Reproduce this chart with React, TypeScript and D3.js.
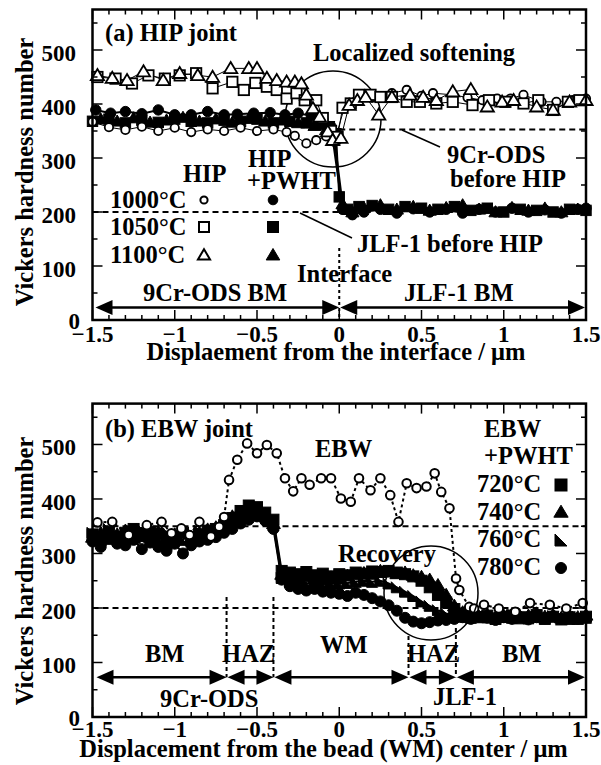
import React from "react";
import * as d3 from "d3";

// ---------- axis ticks ----------
const X_TICKS = [-1.5, -1, -0.5, 0, 0.5, 1, 1.5];
const X_TICK_LABELS = ["\u22121.5", "\u22121", "\u22120.5", "0", "0.5", "1", "1.5"];
const Y_TICKS = [0, 100, 200, 300, 400, 500];
const Y_TICK_LABELS = ["0", "100", "200", "300", "400", "500"];

// ---------- panel (a) HIP joint: [displacement, HV] ----------
const hip1000: [number, number][] = [
  [-1.5, 367], [-1.4, 357], [-1.3, 352], [-1.2, 358], [-1.1, 350], [-1.0, 356], [-0.9, 348], [-0.8, 353],
  [-0.7, 350], [-0.6, 356], [-0.5, 350], [-0.4, 353], [-0.32, 348], [-0.27, 341], [-0.2, 327], [-0.14, 333],
  [-0.08, 340], [-0.03, 330], [0.03, 392], [0.1, 405], [0.2, 412], [0.32, 420], [0.41, 426], [0.5, 415],
  [0.57, 420], [0.69, 417], [0.78, 412], [0.87, 407], [0.96, 410], [1.04, 410], [1.12, 417], [1.23, 404],
  [1.32, 404], [1.42, 407], [1.5, 410],
];
const hip1050: [number, number][] = [
  [-1.47, 450], [-1.36, 447], [-1.26, 438], [-1.16, 453], [-1.06, 447], [-0.97, 453], [-0.87, 457], [-0.77, 429],
  [-0.65, 441], [-0.58, 426], [-0.51, 439], [-0.44, 432], [-0.38, 426], [-0.32, 410], [-0.26, 420], [-0.21, 407],
  [-0.14, 407], [-0.1, 374], [-0.05, 350], [-0.01, 339], [0.02, 393], [0.07, 401], [0.12, 417], [0.19, 417],
  [0.25, 413], [0.32, 413], [0.41, 404], [0.49, 404], [0.59, 401], [0.69, 404], [0.81, 398], [0.91, 407],
  [1.01, 404], [1.12, 401], [1.21, 407], [1.3, 389], [1.39, 404], [1.46, 407],
];
const hip1100: [number, number][] = [
  [-1.47, 453], [-1.38, 448], [-1.29, 444], [-1.19, 460], [-1.07, 444], [-0.97, 457], [-0.86, 453], [-0.77, 450],
  [-0.66, 466], [-0.55, 466], [-0.5, 466], [-0.44, 448], [-0.38, 444], [-0.32, 441], [-0.27, 441], [-0.23, 438],
  [-0.2, 417], [-0.16, 392], [-0.12, 376], [-0.07, 349], [-0.04, 333], [0.01, 337], [0.06, 398], [0.11, 407],
  [0.16, 413], [0.24, 380], [0.32, 413], [0.43, 417], [0.51, 413], [0.59, 407], [0.69, 423], [0.8, 427],
  [0.9, 395], [0.99, 404], [1.06, 407], [1.2, 395], [1.3, 389], [1.4, 404], [1.5, 407],
];
const pwht1000: [number, number][] = [
  [-1.48, 389], [-1.39, 383], [-1.3, 386], [-1.2, 382], [-1.1, 389], [-1.0, 380], [-0.9, 380], [-0.8, 386],
  [-0.7, 380], [-0.62, 381], [-0.52, 383], [-0.42, 384], [-0.33, 380], [-0.25, 383], [-0.17, 378], [-0.1, 372],
  [-0.05, 358], [0.02, 205], [0.08, 195], [0.15, 200], [0.25, 205], [0.35, 198], [0.45, 206], [0.55, 200],
  [0.65, 205], [0.75, 198], [0.85, 205], [0.95, 200], [1.05, 207], [1.15, 200], [1.25, 204], [1.35, 198],
  [1.45, 205], [1.5, 207],
];
const pwht1050: [number, number][] = [
  [-1.5, 368], [-1.4, 372], [-1.3, 365], [-1.2, 370], [-1.1, 366], [-1.0, 372], [-0.9, 368], [-0.8, 365],
  [-0.7, 370], [-0.6, 368], [-0.5, 372], [-0.4, 365], [-0.3, 368], [-0.2, 365], [-0.12, 362], [-0.06, 358],
  [-0.02, 345], [0.0, 228], [0.05, 205], [0.12, 210], [0.2, 212], [0.3, 205], [0.4, 210], [0.5, 207],
  [0.6, 205], [0.7, 210], [0.8, 203], [0.9, 207], [1.0, 200], [1.1, 205], [1.2, 203], [1.3, 200],
  [1.4, 205], [1.5, 203],
];
const pwht1100: [number, number][] = [
  [-1.45, 372], [-1.35, 368], [-1.25, 374], [-1.15, 366], [-1.05, 370], [-0.95, 375], [-0.85, 368], [-0.75, 372],
  [-0.65, 366], [-0.55, 373], [-0.45, 368], [-0.35, 370], [-0.25, 365], [-0.15, 360], [-0.08, 352], [-0.03, 335],
  [0.02, 215], [0.08, 200], [0.15, 208], [0.25, 213], [0.35, 205], [0.45, 210], [0.55, 203], [0.65, 208],
  [0.75, 213], [0.85, 205], [0.95, 200], [1.05, 208], [1.15, 203], [1.25, 207], [1.35, 200], [1.45, 205],
];

// ---------- panel (b) EBW joint ----------
const ebw: [number, number][] = [
  [-1.47, 357], [-1.38, 358], [-1.28, 334], [-1.17, 352], [-1.08, 358], [-1.02, 337], [-0.96, 346], [-0.91, 334],
  [-0.85, 358], [-0.78, 331], [-0.73, 349], [-0.7, 367], [-0.67, 435], [-0.62, 472], [-0.56, 502], [-0.5, 484],
  [-0.44, 499], [-0.38, 484], [-0.33, 438], [-0.28, 414], [-0.23, 438], [-0.18, 426], [-0.11, 438], [-0.05, 438],
  [0.01, 401], [0.07, 395], [0.12, 438], [0.19, 416], [0.25, 438], [0.31, 407], [0.36, 358], [0.41, 429],
  [0.47, 420], [0.53, 423], [0.58, 447], [0.62, 413], [0.67, 383], [0.71, 254], [0.73, 233], [0.79, 202],
  [0.82, 199], [0.88, 206], [0.97, 199], [1.07, 193], [1.16, 209], [1.28, 206], [1.38, 199], [1.48, 209],
];
const xB = [
  -1.5, -1.45, -1.4, -1.35, -1.3, -1.25, -1.2, -1.15, -1.1, -1.05, -1.0, -0.95, -0.9, -0.85, -0.8, -0.75,
  -0.7, -0.65, -0.6, -0.55, -0.5, -0.45, -0.4, -0.35, -0.3, -0.25, -0.2, -0.15, -0.1, -0.05, 0, 0.05,
  0.1, 0.15, 0.2, 0.25, 0.3, 0.35, 0.4, 0.45, 0.5, 0.55, 0.6, 0.65, 0.7, 0.75, 0.8, 0.85,
  0.9, 0.95, 1.0, 1.05, 1.1, 1.15, 1.2, 1.25, 1.3, 1.35, 1.4, 1.45, 1.5,
];
const pw720 = [
  335, 325, 340, 330, 338, 345, 332, 340, 335, 318, 330, 338, 325, 335, 342, 345,
  352, 365, 378, 388, 385, 375, 362, 268, 265, 262, 266, 260, 263, 258, 262, 260,
  265, 263, 267, 266, 268, 265, 262, 258, 250, 238, 224, 210, 198, 190, 186, 183,
  186, 181, 184, 186, 181, 183, 187, 181, 184, 179, 183, 180, 184,
];
const pw740 = [
  330, 338, 326, 335, 342, 328, 336, 330, 340, 325, 335, 342, 330, 338, 344, 348,
  355, 368, 372, 378, 380, 372, 355, 262, 258, 255, 258, 254, 252, 256, 255, 259,
  261, 264, 262, 268, 266, 263, 265, 260, 257, 252, 242, 224, 204, 192, 186, 184,
  188, 183, 186, 189, 184, 186, 190, 184, 187, 182, 186, 183, 187,
];
const pw760 = [
  338, 332, 345, 335, 328, 340, 345, 335, 328, 340, 332, 325, 338, 342, 335, 340,
  348, 360, 368, 372, 375, 368, 352, 255, 248, 244, 246, 243, 244, 246, 245, 246,
  248, 250, 248, 250, 245, 238, 230, 222, 212, 204, 196, 190, 186, 184, 182, 185,
  183, 180, 184, 182, 186, 181, 184, 180, 185, 182, 180, 184, 182,
];
const pw780 = [
  322, 312, 328, 318, 315, 325, 308, 320, 312, 305, 318, 300, 315, 322, 325, 330,
  338, 345, 355, 362, 368, 360, 345, 252, 240, 235, 232, 235, 230, 228, 226, 222,
  228, 224, 218, 212, 205, 195, 182, 175, 172, 174, 177, 178, 180, 183, 180, 184,
  182, 178, 183, 180, 184, 179, 183, 181, 185, 180, 183, 180, 184,
];

// ---------- layout ----------
const W = 601, H = 765;
const L = 92.5, R = 586;
const FONT = "'Liberation Serif','Times New Roman',Times,serif";
const x = d3.scaleLinear().domain([-1.5, 1.5]).range([L, R]);
const yA = d3.scaleLinear().domain([0, 575]).range([320, 9.5]);
const yB = d3.scaleLinear().domain([0, 575]).range([717, 403.6]);

type Shape = "circle" | "square" | "triangle" | "rtri";

function Marker({ shape, filled, cx, cy, s, sw }: { shape: Shape; filled: boolean; cx: number; cy: number; s: number; sw?: number }) {
  const fill = filled ? "#000" : "#fff";
  const strokeWidth = sw ?? (filled ? 1 : 1.8);
  if (shape === "circle") return <circle cx={cx} cy={cy} r={s} fill={fill} stroke="#000" strokeWidth={strokeWidth} />;
  if (shape === "square") return <rect x={cx - s} y={cy - s} width={2 * s} height={2 * s} fill={fill} stroke="#000" strokeWidth={strokeWidth} />;
  if (shape === "triangle")
    return <path d={`M${cx},${cy - s * 1.05}L${cx + s * 1.1},${cy + s * 0.8}L${cx - s * 1.1},${cy + s * 0.8}Z`} fill={fill} stroke="#000" strokeWidth={strokeWidth} strokeLinejoin="miter" />;
  return <path d={`M${cx - s},${cy - s}L${cx + s},${cy + s}L${cx - s},${cy + s}Z`} fill={fill} stroke="#000" strokeWidth={strokeWidth} />;
}

function Axes({ y, xLabelDy }: { y: d3.ScaleLinear<number, number>; xLabelDy: number }) {
  const [yb, yt] = y.range();
  const xMinor = d3.range(-15, 16).map((i) => i / 10);
  const yMinor = d3.range(0, 12).map((i) => i * 50);
  return (
    <g>
      <g stroke="#000" strokeWidth={1.5}>
        {xMinor.map((v, i) => {
          const len = i % 5 === 0 ? 10 : 5;
          const px = x(v);
          return (
            <g key={"x" + i}>
              <line x1={px} x2={px} y1={yb} y2={yb - len} />
              <line x1={px} x2={px} y1={yt} y2={yt + len} />
            </g>
          );
        })}
        {yMinor.map((v, i) => {
          const len = i % 2 === 0 ? 10 : 5;
          const py = y(v);
          return (
            <g key={"y" + i}>
              <line x1={L} x2={L + len} y1={py} y2={py} />
              <line x1={R} x2={R - len} y1={py} y2={py} />
            </g>
          );
        })}
      </g>
      <rect x={L} y={yt} width={R - L} height={yb - yt} fill="none" stroke="#000" strokeWidth={2.5} />
      <g fontFamily={FONT} fontWeight="bold" fontSize={23} fill="#000">
        {X_TICKS.map((v, i) => (
          <text key={"xl" + i} x={x(v)} y={yb + xLabelDy} textAnchor="middle">{X_TICK_LABELS[i]}</text>
        ))}
        {Y_TICKS.map((v, i) => (
          <text key={"yl" + i} x={v === 0 ? 80 : 76} y={y(v) + (v === 0 ? 9 : 11)} textAnchor="end">{Y_TICK_LABELS[i]}</text>
        ))}
      </g>
    </g>
  );
}

function DArrow({ x1, x2, yy }: { x1: number; x2: number; yy: number }) {
  const hl = 17, hw = 7.5;
  return (
    <g>
      <line x1={x1 + hl - 2} x2={x2 - hl + 2} y1={yy} y2={yy} stroke="#000" strokeWidth={2.5} />
      <path d={`M${x1},${yy}L${x1 + hl},${yy - hw}L${x1 + hl},${yy + hw}Z`} fill="#000" />
      <path d={`M${x2},${yy}L${x2 - hl},${yy - hw}L${x2 - hl},${yy + hw}Z`} fill="#000" />
    </g>
  );
}

function Deg({ t }: { t: string }) {
  return <>{t}<tspan>°</tspan>C</>;
}

export default function App() {
  const lineA = d3.line<[number, number]>().x((d) => x(d[0])).y((d) => yA(d[1]));
  const lineB = d3.line<[number, number]>().x((d) => x(d[0])).y((d) => yB(d[1]));

  const seriesA: { data: [number, number][]; shape: Shape; filled: boolean; s: number }[] = [
    { data: pwht1000, shape: "circle", filled: true, s: 5.2 },
    { data: pwht1050, shape: "square", filled: true, s: 5.2 },
    { data: pwht1100, shape: "triangle", filled: true, s: 6 },
    { data: hip1000, shape: "circle", filled: false, s: 4.2 },
    { data: hip1050, shape: "square", filled: false, s: 5.2 },
    { data: hip1100, shape: "triangle", filled: false, s: 6 },
  ];
  const seriesB: { data: [number, number][]; shape: Shape; s: number }[] = [
    { data: xB.map((v, i) => [v, pw780[i]] as [number, number]), shape: "circle", s: 5.5 },
    { data: xB.map((v, i) => [v, pw760[i]] as [number, number]), shape: "rtri", s: 5.5 },
    { data: xB.map((v, i) => [v, pw740[i]] as [number, number]), shape: "triangle", s: 6.3 },
    { data: xB.map((v, i) => [v, pw720[i]] as [number, number]), shape: "square", s: 5.5 },
  ];

  const txt = { fontFamily: FONT, fontWeight: "bold" as const, fontSize: 24.5, fill: "#000" };

  return (
    <svg width={W} height={H} viewBox={`0 0 ${W} ${H}`} style={{ position: "absolute", left: 0, top: 0, background: "#fff" }}>
      <rect x={0} y={0} width={W} height={H} fill="#fff" />

      {/* ================= Panel (a) ================= */}
      <g>
        <line x1={x(-1.5)} x2={x(0)} y1={yA(200)} y2={yA(200)} stroke="#000" strokeWidth={2} strokeDasharray="6,4" />
        <line x1={x(0)} x2={x(1.5)} y1={yA(353)} y2={yA(353)} stroke="#000" strokeWidth={2} strokeDasharray="6,4" />
        <line x1={x(0)} x2={x(0)} y1={248} y2={yA(0)} stroke="#000" strokeWidth={2} strokeDasharray="3,3" />
        <line x1={402} y1={130} x2={440} y2={147} stroke="#000" strokeWidth={1.5} />
        <line x1={300} y1={213} x2={352} y2={238} stroke="#000" strokeWidth={1.5} />
        <circle cx={333} cy={119} r={48} fill="none" stroke="#000" strokeWidth={1.5} />

        {seriesA.map((s, i) => (
          <path key={"la" + i} d={lineA(s.data) || ""} fill="none" stroke="#000" strokeWidth={s.filled ? 2 : 1} />
        ))}
        {seriesA.map((s, i) => (
          <g key={"ma" + i}>
            {s.data.map((d, j) => (
              <Marker key={j} shape={s.shape} filled={s.filled} cx={x(d[0])} cy={yA(d[1])} s={s.s} />
            ))}
          </g>
        ))}

        <Axes y={yA} xLabelDy={22} />

        <DArrow x1={x(-1.5) + 3} x2={x(0)} yy={yA(23)} />
        <DArrow x1={x(0) + 1} x2={x(1.5) - 1} yy={yA(23)} />

        <text {...txt} x={105} y={41}>(a) HIP joint</text>
        <text {...txt} x={313} y={61}>Localized softening</text>
        <text {...txt} x={447} y={163}>9Cr-ODS</text>
        <text {...txt} x={450} y={187}>before HIP</text>
        <text {...txt} x={357} y={252}>JLF-1 before HIP</text>
        <text {...txt} x={297} y={282}>Interface</text>
        <text {...txt} x={143} y={301}>9Cr-ODS BM</text>
        <text {...txt} x={404} y={301}>JLF-1 BM</text>

        <text {...txt} x={183} y={182}>HIP</text>
        <text {...txt} x={248} y={167}>HIP</text>
        <text {...txt} x={247} y={189}>+PWHT</text>
        <text {...txt} x={110} y={208}><Deg t="1000" /></text>
        <text {...txt} x={110} y={235}><Deg t="1050" /></text>
        <text {...txt} x={110} y={263}><Deg t="1100" /></text>
        <Marker shape="circle" filled={false} cx={204} cy={200} s={3.6} sw={2} />
        <Marker shape="square" filled={false} cx={204} cy={227} s={5} sw={2} />
        <Marker shape="triangle" filled={false} cx={204} cy={255} s={5.5} sw={2} />
        <Marker shape="circle" filled={true} cx={273} cy={200} s={4.8} />
        <Marker shape="square" filled={true} cx={273} cy={227} s={5.5} />
        <Marker shape="triangle" filled={true} cx={273} cy={255} s={6.2} />

        <text {...txt} x={336} y={360} textAnchor="middle">Displaement from the interface / μm</text>
        <text {...txt} transform="translate(33,172) rotate(-90)" textAnchor="middle">Vickers hardness number</text>
      </g>

      {/* ================= Panel (b) ================= */}
      <g>
        <line x1={x(-1.5)} x2={x(1.5)} y1={yB(350)} y2={yB(350)} stroke="#000" strokeWidth={2} strokeDasharray="6,4" />
        <line x1={x(-1.5)} x2={x(1.5)} y1={yB(200)} y2={yB(200)} stroke="#000" strokeWidth={2} strokeDasharray="6,4" />
        <line x1={x(-0.685)} x2={x(-0.685)} y1={597} y2={yB(73)} stroke="#000" strokeWidth={2} strokeDasharray="4,3" />
        <line x1={x(-0.4)} x2={x(-0.4)} y1={597} y2={yB(73)} stroke="#000" strokeWidth={2} strokeDasharray="4,3" />
        <line x1={x(0.421)} x2={x(0.421)} y1={636} y2={yB(73)} stroke="#000" strokeWidth={2} strokeDasharray="4,3" />
        <line x1={x(0.709)} x2={x(0.709)} y1={628} y2={yB(73)} stroke="#000" strokeWidth={2} strokeDasharray="4,3" />

        {seriesB.map((s, i) => (
          <path key={"lb" + i} d={lineB(s.data) || ""} fill="none" stroke="#000" strokeWidth={2} />
        ))}
        {seriesB.map((s, i) => (
          <g key={"mb" + i}>
            {s.data.map((d, j) => (
              <Marker key={j} shape={s.shape} filled={true} cx={x(d[0])} cy={yB(d[1])} s={s.s} />
            ))}
          </g>
        ))}
        <path d={lineB(ebw) || ""} fill="none" stroke="#000" strokeWidth={2} strokeDasharray="3,3" />
        {ebw.map((d, j) => (
          <Marker key={"e" + j} shape="circle" filled={false} cx={x(d[0])} cy={yB(d[1])} s={4.3} sw={2} />
        ))}

        <circle cx={431} cy={593} r={47} fill="none" stroke="#000" strokeWidth={1.5} />

        <Axes y={yB} xLabelDy={20} />

        <DArrow x1={x(-1.5) + 4} x2={x(-0.685)} yy={yB(73)} />
        <DArrow x1={x(-0.685) + 1} x2={x(-0.4)} yy={yB(73)} />
        <DArrow x1={x(-0.4) + 1} x2={x(0.421)} yy={yB(73)} />
        <DArrow x1={x(0.421) + 1} x2={x(0.709)} yy={yB(73)} />
        <DArrow x1={x(0.709) + 1} x2={x(1.5) - 1} yy={yB(73)} />

        <text {...txt} x={105} y={437}>(b) EBW joint</text>
        <text {...txt} x={315} y={457}>EBW</text>
        <text {...txt} x={484} y={437}>EBW</text>
        <text {...txt} x={484} y={464}>+PWHT</text>
        <text {...txt} x={477} y={492}><Deg t="720" /></text>
        <text {...txt} x={477} y={520}><Deg t="740" /></text>
        <text {...txt} x={477} y={547}><Deg t="760" /></text>
        <text {...txt} x={477} y={575}><Deg t="780" /></text>
        <Marker shape="square" filled={true} cx={561} cy={485} s={6} />
        <Marker shape="triangle" filled={true} cx={561} cy={512} s={6.5} />
        <Marker shape="rtri" filled={true} cx={561} cy={540} s={6} />
        <Marker shape="circle" filled={true} cx={561} cy={568} s={5.5} />

        <text {...txt} x={338} y={562}>Recovery</text>
        <text {...txt} x={145} y={662}>BM</text>
        <text {...txt} x={222} y={662}>HAZ</text>
        <text {...txt} x={320} y={653}>WM</text>
        <text {...txt} x={407} y={662}>HAZ</text>
        <text {...txt} x={502} y={662}>BM</text>
        <text {...txt} x={160} y={707}>9Cr-ODS</text>
        <text {...txt} x={433} y={705}>JLF-1</text>

        <text {...txt} x={323.5} y={757} textAnchor="middle">Displacement from the bead (WM) center / μm</text>
        <text {...txt} transform="translate(33,571) rotate(-90)" textAnchor="middle">Vickers hardness number</text>
      </g>
    </svg>
  );
}
